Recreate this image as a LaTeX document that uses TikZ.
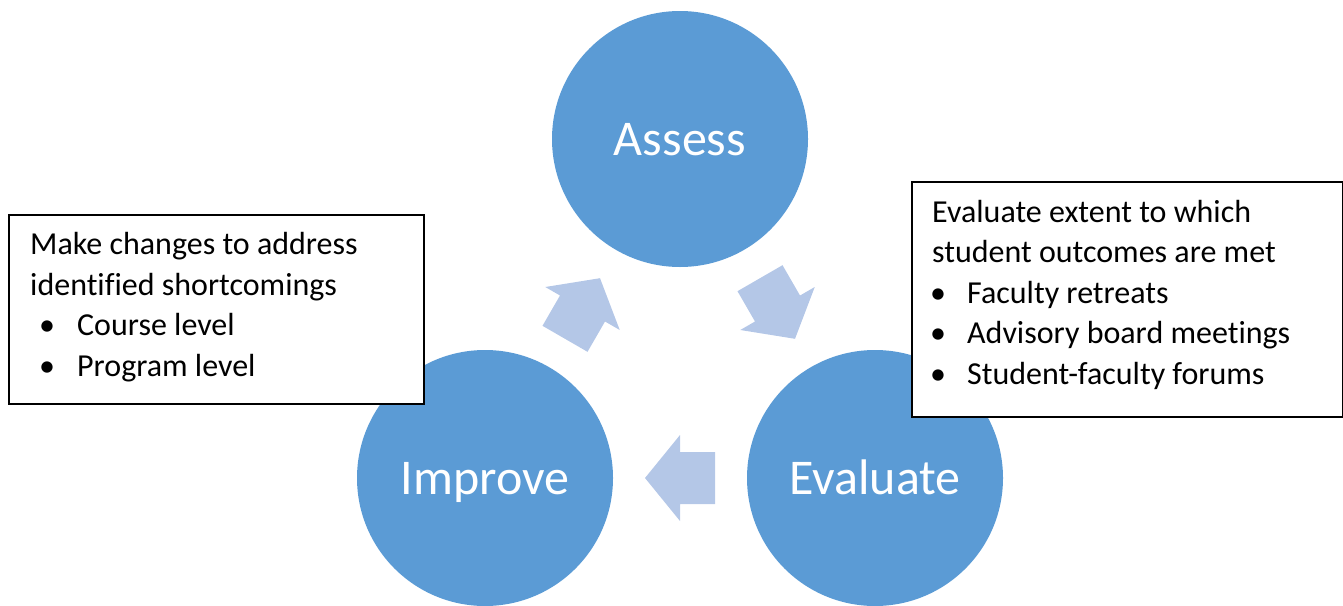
\documentclass[tikz,border=0pt]{standalone}
\usepackage{fontspec}
\setmainfont{Carlito}[Ligatures=CommonOff]
\usetikzlibrary{calc}
\definecolor{circblue}{HTML}{5B9BD5}
\definecolor{arrblue}{HTML}{B4C7E7}
\newcommand{\bulletrow}[3]{\rlap{\hspace{#1}\makebox[0pt]{•}}\hspace{#2}#3}
\begin{document}
\begin{tikzpicture}[x=1pt,y=-1pt,
  circ/.style={circle, fill=circblue, minimum size=256pt, inner sep=0pt, text=white,
    font=\fontsize{50}{60}\selectfont, text height=32pt, text depth=0pt},
  blockarrow/.style={fill=arrblue},
  textbox/.style={draw=black, line width=1.5pt, fill=white, inner sep=0pt, anchor=north west},
  boxtext/.style={anchor=base west, inner sep=0pt, font=\fontsize{32}{40.5}\selectfont}]
\useasboundingbox (0,0) rectangle (1343,605);
\node[circ] (assess) at (680,139) {Assess};
\node[circ] (improve) at (485,478) {Improve};
\node[circ] (evaluate) at (875,478) {Evaluate};
% block arrows
\fill[blockarrow, shift={($(improve)!0.5!(assess)$)}, rotate=60]
  (-35,-26) -- (0,-26) -- (0,-43) -- (35,0) -- (0,43) -- (0,26) -- (-35,26) -- cycle;
\fill[blockarrow, shift={($(assess)!0.5!(evaluate)$)}, rotate=-60]
  (-35,-26) -- (0,-26) -- (0,-43) -- (35,0) -- (0,43) -- (0,26) -- (-35,26) -- cycle;
\fill[blockarrow, shift={($(evaluate)!0.5!(improve)$)}, rotate=180]
  (-35,-26) -- (0,-26) -- (0,-43) -- (35,0) -- (0,43) -- (0,26) -- (-35,26) -- cycle;
% text boxes
\node[textbox, minimum width=415pt, minimum height=189pt] (leftbox) at (8,214) {};
\node[boxtext] (lefttext) at ($(leftbox.north west)+(22,40.5)$) {\begin{tabular}[t]{@{}l@{}}
Make changes to address\\
identified shortcomings\\
\bulletrow{17pt}{47pt}{Course level}\\
\bulletrow{17pt}{47pt}{Program level}
\end{tabular}};
\node[textbox, minimum width=431pt, minimum height=235pt] (rightbox) at (911,181) {};
\node[boxtext] (righttext) at ($(rightbox.north west)+(21,41)$) {\begin{tabular}[t]{@{}l@{}}
Evaluate extent to which\\
student outcomes are met\\
\bulletrow{6pt}{35pt}{Faculty retreats}\\
\bulletrow{6pt}{35pt}{Advisory board meetings}\\
\bulletrow{6pt}{35pt}{Student-faculty forums}
\end{tabular}};
\end{tikzpicture}
\end{document}
